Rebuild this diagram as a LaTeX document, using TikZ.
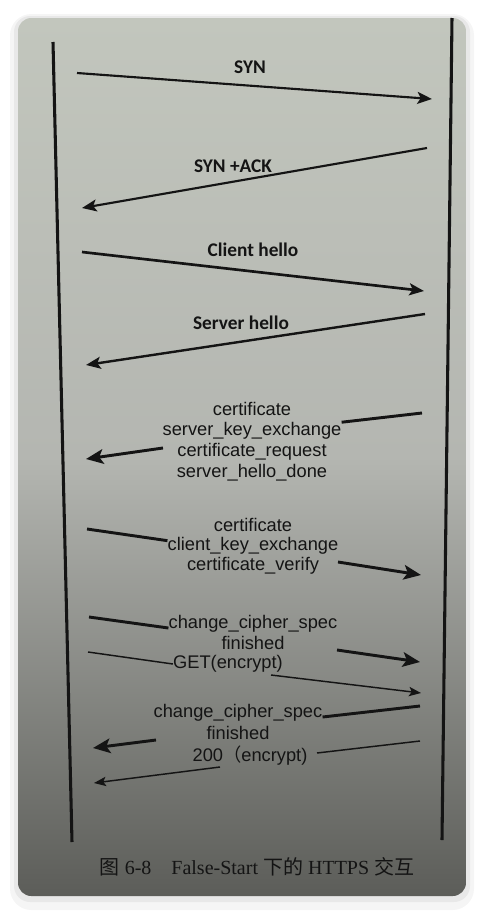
\documentclass[tikz,border=0pt]{standalone}
\usepackage{fontspec}
\setmainfont{Liberation Serif}
\newfontfamily\arialfont{Liberation Sans}
\newfontfamily\calfont{Carlito}
\newfontfamily\cjk{Noto Sans CJK SC}
\usepackage{tikz}
\usetikzlibrary{arrows.meta}
\definecolor{ink}{RGB}{20,20,20}
\definecolor{papertop}{RGB}{194,198,189}
\definecolor{papermid}{RGB}{180,182,177}
\definecolor{paperbot}{RGB}{92,93,89}

\begin{document}
\begin{tikzpicture}[x=0.75pt, y=-0.75pt,
	life/.style={ink, line width=2.3pt},
	msg/.style={ink, line width=1.6pt, -{Stealth[length=11pt, width=9pt, inset=2.5pt]}},
	bar/.style={ink, line width=2.2pt},
	bigmsg/.style={bar, -{Stealth[length=13pt, width=11pt, inset=3pt]}},
	thin/.style={ink, line width=1.1pt},
	thinmsg/.style={thin, -{Stealth[length=9pt, width=7pt, inset=2pt]}},
	tcp/.style={text=ink, inner sep=0pt, font=\calfont\bfseries\fontsize{14.5pt}{18pt}\selectfont},
	tls/.style={text=ink, inner sep=0pt, font=\arialfont\fontsize{13.7pt}{16pt}\selectfont}]
	\useasboundingbox (0, 0) rectangle (484, 914);
	\fill [white] (0, 0) rectangle (484, 914);
	\fill [black, opacity=0.04, rounded corners=16] (10, 14) rectangle (474, 910);
	\fill [black, opacity=0.05, rounded corners=12] (14, 16) rectangle (470, 902);
	\shade [rounded corners=10, top color=papertop, bottom color=paperbot, middle color=papermid] (18, 18) rectangle (466, 896);

	\coordinate (ltop) at (53, 42);
	\coordinate (lbot) at (72, 842);
	\coordinate (rtop) at (452, 18);
	\coordinate (rbot) at (442, 840);

	\node [tcp] (syn) at (250, 67) {SYN};
	\node [tcp] (synack) at (233, 166) {SYN +ACK};
	\node [tcp] (chello) at (253, 250) {Client hello};
	\node [tcp] (shello) at (241, 323) {Server hello};

	\node [tls] (cert1) at (252, 409) {certificate};
	\node [tls] (ske) at (252, 431) {server\_key\_exchange};
	\node [tls] (creq) at (252, 452) {certificate\_request};
	\node [tls] (shd) at (252, 473) {server\_hello\_done};

	\node [tls] (cert2) at (253, 525) {certificate};
	\node [tls] (cke) at (253, 546) {client\_key\_exchange};
	\node [tls] (cver) at (253, 566) {certificate\_verify};

	\node [tls] (ccs1) at (253, 624) {change\_cipher\_spec};
	\node [tls] (fin1) at (253, 643) {finished};
	\node [tls] (get) at (228, 664) {GET(encrypt)};

	\node [tls] (ccs2) at (238, 713) {change\_cipher\_spec};
	\node [tls] (fin2) at (238, 733) {finished};
	\node [tls] (ok) at (250, 756) {200{\cjk （}encrypt)};

	\node [text=ink, font=\fontsize{15pt}{18pt}\selectfont] (caption) at (257, 867) {{\cjk 图} 6-8\quad False-Start {\cjk 下的} HTTPS {\cjk 交互}};

	\coordinate (syn1) at (77, 73);
	\coordinate (syn2) at (432, 99);
	\coordinate (ack1) at (427, 148);
	\coordinate (ack2) at (82, 208);
	\coordinate (ch1) at (82, 252);
	\coordinate (ch2) at (424, 291);
	\coordinate (sh1) at (425, 314);
	\coordinate (sh2) at (86, 365);
	\coordinate (sk1) at (422, 413);
	\coordinate (sk2) at (163, 448);
	\coordinate (sk3) at (86, 459);
	\coordinate (ck1) at (87, 529);
	\coordinate (cv1) at (338, 562);
	\coordinate (cv2) at (421, 575);
	\coordinate (cc1) at (89, 617);
	\coordinate (fa1) at (337, 650);
	\coordinate (fa2) at (420, 662);
	\coordinate (gt1) at (88, 652);
	\coordinate (ga1) at (271, 675);
	\coordinate (ga2) at (421, 693);
	\coordinate (cs1) at (420, 706);
	\coordinate (fb1) at (156, 740);
	\coordinate (fb2) at (93, 748);
	\coordinate (ok1) at (420, 741);
	\coordinate (ok2) at (317, 753);
	\coordinate (oa1) at (220, 767);
	\coordinate (oa2) at (94, 783);

	\draw [life] (ltop) to (lbot);
	\draw [life] (rtop) to (rbot);

	\draw [msg] (syn1) to (syn2);
	\draw [msg] (ack1) to (ack2);
	\draw [msg, line width=2pt] (ch1) to (ch2);
	\draw [msg, line width=1.8pt] (sh1) to (sh2);

	\draw [bar] (sk1) to (ske.north east);
	\draw [bigmsg] (sk2) to (sk3);
	\draw [bar] (ck1) to ([yshift=4pt]cke.west);
	\draw [bigmsg] (cv1) to (cv2);

	\draw [bar] (cc1) to ([yshift=-3pt]ccs1.west);
	\draw [bigmsg] (fa1) to (fa2);
	\draw [thin] (gt1) to (get.west);
	\draw [thinmsg] (ga1) to (ga2);

	\draw [bar] (cs1) to ([yshift=-3pt]ccs2.east);
	\draw [bigmsg] (fb1) to (fb2);
	\draw [thin] (ok1) to (ok2);
	\draw [thinmsg] (oa1) to (oa2);
\end{tikzpicture}
\end{document}
